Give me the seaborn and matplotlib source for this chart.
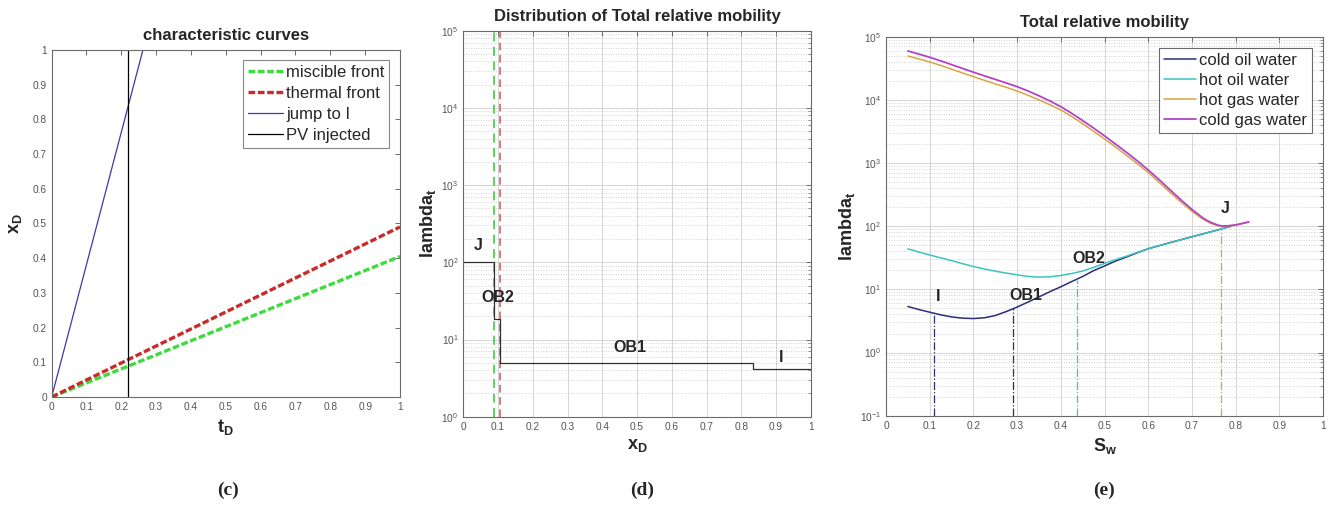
import numpy as np
import pandas as pd
import matplotlib
matplotlib.use("Agg")
import matplotlib.pyplot as plt
import seaborn as sns
from matplotlib.ticker import LogLocator, NullLocator, FixedLocator, FixedFormatter

sns.set_style("white")
plt.rcParams["font.family"] = ["Liberation Sans", "DejaVu Sans"]
plt.rcParams["mathtext.fontset"] = "custom"
plt.rcParams["mathtext.rm"] = "Liberation Sans"
plt.rcParams["mathtext.bf"] = "Liberation Sans:bold"
plt.rcParams["mathtext.it"] = "Liberation Sans:italic"

# ---------------- (c) characteristic curves ----------------
t_front = [0.0, 1.0]
miscible_front = [0.0, 0.405]
thermal_front = [0.0, 0.49]
t_jump = [0.0, 0.262]
x_jump = [0.0, 1.0]
t_pv = [0.22, 0.22]
x_pv = [0.0, 1.0]

# ---------------- (d) distribution of total mobility ----------------
xd_steps = [0.0, 0.088, 0.106, 0.835, 1.0]
lam_steps = [100.0, 18.6, 4.96, 4.1, 4.1]
miscible_pos = 0.088
thermal_pos = 0.106
d_labels = ["J", "OB2", "OB1", "I"]
d_label_x = [0.043, 0.10, 0.48, 0.915]
d_label_y = [165.0, 35.0, 7.8, 5.9]

# ---------------- (e) total relative mobility vs Sw ----------------
sw_gas = [0.05, 0.075, 0.10, 0.125, 0.15, 0.175, 0.20, 0.225, 0.25, 0.275,
          0.30, 0.325, 0.35, 0.375, 0.40, 0.425, 0.45, 0.475, 0.50, 0.525,
          0.55, 0.575, 0.60, 0.625, 0.65, 0.675, 0.70, 0.725, 0.74, 0.75,
          0.76, 0.77, 0.78, 0.80, 0.83]
cold_gas_water = [59400, 53100, 47200, 41500, 36100, 31500, 27400, 24000, 21100, 18500,
                  16200, 13800, 11600, 9590, 7800, 6110, 4700, 3570, 2690, 2000,
                  1480, 1080, 776, 543, 376, 260, 184, 135, 117.5, 110,
                  103.5, 100.7, 101, 104.7, 117]
hot_gas_water = [49500, 44500, 39800, 35100, 30600, 26700, 23300, 20400, 17900, 15800,
                 13800, 11800, 10000, 8360, 6920, 5450, 4190, 3180, 2400, 1800,
                 1330, 977, 708, 495, 343, 240, 172, 129, 113.5, 106.7,
                 101.9, 99.5, 100, 104, 116]
sw_oil = [0.05, 0.075, 0.10, 0.125, 0.15, 0.175, 0.20, 0.225, 0.25, 0.275,
          0.30, 0.325, 0.35, 0.375, 0.40, 0.425, 0.45, 0.475, 0.50, 0.525,
          0.55, 0.575, 0.60, 0.65, 0.70, 0.75, 0.79]
cold_oil_water = [5.35, 4.8, 4.35, 3.95, 3.66, 3.5, 3.45, 3.55, 3.85, 4.45,
                  5.25, 6.3, 7.6, 9.2, 11.0, 13.3, 16.0, 19.8, 23.5, 28.0,
                  32.5, 38.0, 44.0, 55.0, 68.0, 84.0, 100.0]
hot_oil_water = [43.8, 39.0, 35.0, 31.5, 28.5, 25.5, 23.0, 21.0, 19.4, 18.1,
                 17.0, 16.0, 15.6, 15.8, 16.6, 17.8, 19.5, 22.3, 25.8, 29.5,
                 33.5, 38.5, 44.0, 55.0, 68.0, 84.0, 100.0]
e_marks = ["I", "OB1", "OB2", "J"]
e_mark_sw = [0.11, 0.291, 0.436, 0.767]
e_mark_lam = [4.0, 5.0, 14.0, 100.0]
e_label_x = [0.12, 0.32, 0.465, 0.777]
e_label_y = [7.8, 7.9, 31.0, 190.0]

NAVY = "#2b2d78"
CYAN = "#3cc4bc"
ORANGE = "#d6a445"
MAGENTA = "#b244c4"
FRAME = "#6a6a6a"
TICKC = "#555555"

fig = plt.figure(figsize=(13.28, 5.07), dpi=100)
ax_c = fig.add_axes([0.0389, 0.217, 0.2623, 0.6844])
ax_d = fig.add_axes([0.3489, 0.1781, 0.2616, 0.7613])
ax_e = fig.add_axes([0.6672, 0.1801, 0.3291, 0.7475])


def style_axes(ax):
    for s in ax.spines.values():
        s.set_color(FRAME)
        s.set_linewidth(0.8)
    ax.tick_params(which="both", direction="in", top=True, right=True,
                   colors=FRAME, labelcolor=TICKC, labelsize=7.3)
    ax.tick_params(which="major", length=3.5, width=0.7)
    ax.tick_params(which="minor", length=2, width=0.5)


def style_legend(leg):
    leg.get_frame().set_edgecolor(FRAME)
    leg.get_frame().set_linewidth(0.8)


lin_ticks = [round(0.1 * i, 1) for i in range(11)]
lin_labels = ["0"] + [f"{v:g}" for v in lin_ticks[1:-1]] + ["1"]

# ---- (c)
df_c = pd.DataFrame({"t": t_front, "mis": miscible_front, "th": thermal_front})
sns.lineplot(data=df_c, x="t", y="mis", ax=ax_c, color="#3ddc3d", lw=2.4,
             label="miscible front", linestyle=(0, (2.0, 0.8)))
sns.lineplot(data=df_c, x="t", y="th", ax=ax_c, color="#cc2a2a", lw=2.4,
             label="thermal front", linestyle=(0, (2.0, 0.8)))
sns.lineplot(x=t_jump, y=x_jump, ax=ax_c, color="#3a3aa8", lw=0.9,
             label="jump to I", estimator=None, sort=False)
sns.lineplot(x=t_pv, y=x_pv, ax=ax_c, color="black", lw=0.9,
             label="PV injected", estimator=None, sort=False)
ax_c.set_xlim(0, 1)
ax_c.set_ylim(0, 1)
ax_c.xaxis.set_major_locator(FixedLocator(lin_ticks))
ax_c.xaxis.set_major_formatter(FixedFormatter(lin_labels))
ax_c.yaxis.set_major_locator(FixedLocator(lin_ticks))
ax_c.yaxis.set_major_formatter(FixedFormatter(lin_labels))
style_axes(ax_c)
ax_c.set_title("characteristic curves", fontsize=12, fontweight="bold", pad=7)
ax_c.set_xlabel(r"$\mathbf{t_D}$", fontsize=13, labelpad=4)
ax_c.set_ylabel(r"$\mathbf{x_D}$", fontsize=13, labelpad=6)
leg = ax_c.legend(loc="upper right", bbox_to_anchor=(1 - 10.7 / 348.3, 1 - 10 / 347),
                  borderaxespad=0, fontsize=12, frameon=True, fancybox=False,
                  handlelength=2.05, handletextpad=0.2, labelspacing=0.36,
                  borderpad=0.3)
style_legend(leg)

# ---- (d)
for a in (ax_d, ax_e):
    a.set_yscale("log")

ax_d.axvline(miscible_pos, color="#55cc55", ls=(0, (5, 3)), lw=1.3)
ax_d.axvline(thermal_pos, color="#cc5a5a", ls=(0, (5, 3)), lw=1.1)
df_d = pd.DataFrame({"x": xd_steps, "lam": lam_steps})
sns.lineplot(data=df_d, x="x", y="lam", ax=ax_d, color="#303030", lw=0.9,
             drawstyle="steps-post", estimator=None, sort=False)
for lab, x, y in zip(d_labels, d_label_x, d_label_y):
    ax_d.text(x, y, lab, ha="center", va="center", fontsize=11.5, fontweight="bold")
ax_d.set_xlim(0, 1)
ax_d.set_ylim(1, 1e5)
ax_d.xaxis.set_major_locator(FixedLocator(lin_ticks))
ax_d.xaxis.set_major_formatter(FixedFormatter(lin_labels))
ax_d.xaxis.set_minor_locator(NullLocator())
ax_d.yaxis.set_major_locator(LogLocator(base=10, numticks=10))
ax_d.yaxis.set_minor_locator(LogLocator(base=10, subs=np.arange(2, 10), numticks=20))
style_axes(ax_d)
ax_d.grid(True, which="major", color="#d6d6d6", lw=0.7)
ax_d.grid(True, which="minor", axis="y", color="#c4c4c4", ls=(0, (1, 2)), lw=0.6)
ax_d.set_axisbelow(True)
ax_d.set_title("Distribution of Total relative mobility", fontsize=12,
               fontweight="bold", pad=7)
ax_d.set_xlabel(r"$\mathbf{x_D}$", fontsize=13, labelpad=4)
ax_d.set_ylabel(r"$\mathbf{lambda_t}$", fontsize=13, labelpad=2)

# ---- (e)
df_gas = pd.DataFrame({"sw": sw_gas, "cold": cold_gas_water, "hot": hot_gas_water})
df_oil = pd.DataFrame({"sw": sw_oil, "cold": cold_oil_water, "hot": hot_oil_water})
sns.lineplot(data=df_oil, x="sw", y="cold", ax=ax_e, color=NAVY, lw=1.1,
             label="cold oil water", estimator=None)
sns.lineplot(data=df_oil, x="sw", y="hot", ax=ax_e, color=CYAN, lw=1.1,
             label="hot oil water", estimator=None)
sns.lineplot(data=df_gas, x="sw", y="hot", ax=ax_e, color=ORANGE, lw=1.1,
             label="hot gas water", estimator=None)
sns.lineplot(data=df_gas, x="sw", y="cold", ax=ax_e, color=MAGENTA, lw=1.3,
             label="cold gas water", estimator=None)
mark_colors = [NAVY, NAVY, CYAN, ORANGE]
ax_e.vlines(e_mark_sw, 0.1, e_mark_lam, colors=mark_colors, linestyles="-.", lw=0.9)
for lab, x, y in zip(e_marks, e_label_x, e_label_y):
    ax_e.text(x, y, lab, ha="center", va="center", fontsize=11.5, fontweight="bold")
ax_e.set_xlim(0, 1)
ax_e.set_ylim(0.1, 1e5)
ax_e.xaxis.set_major_locator(FixedLocator(lin_ticks))
ax_e.xaxis.set_major_formatter(FixedFormatter(lin_labels))
ax_e.xaxis.set_minor_locator(NullLocator())
ax_e.yaxis.set_major_locator(LogLocator(base=10, numticks=10))
ax_e.yaxis.set_minor_locator(LogLocator(base=10, subs=np.arange(2, 10), numticks=20))
style_axes(ax_e)
ax_e.grid(True, which="major", color="#d6d6d6", lw=0.7)
ax_e.grid(True, which="minor", axis="y", color="#c4c4c4", ls=(0, (1, 2)), lw=0.6)
ax_e.set_axisbelow(True)
ax_e.set_title("Total relative mobility", fontsize=12, fontweight="bold", pad=7)
ax_e.set_xlabel(r"$\mathbf{S_w}$", fontsize=13, labelpad=4)
ax_e.set_ylabel(r"$\mathbf{lambda_t}$", fontsize=13, labelpad=2)
leg_e = ax_e.legend(loc="upper right", bbox_to_anchor=(1 - 10.7 / 437, 1 - 11.6 / 379),
                    borderaxespad=0, fontsize=12, frameon=True, fancybox=False,
                    framealpha=1, handlelength=1.9, handletextpad=0.2,
                    labelspacing=0.3, borderpad=0.3)
style_legend(leg_e)

# panel captions
for lab, xc in zip(["(c)", "(d)", "(e)"], [228, 642, 1104]):
    fig.text(xc / 1328, 17 / 507, lab, ha="center", va="center",
             fontsize=14, fontweight="bold", family="Liberation Serif")

fig.savefig("out.png", dpi=100)
